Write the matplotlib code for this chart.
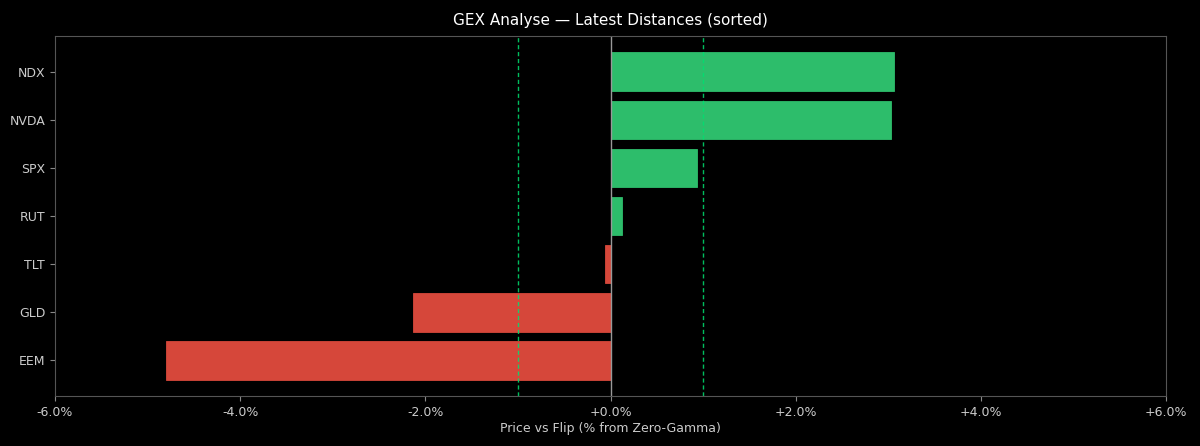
import matplotlib
matplotlib.use("Agg")
import matplotlib.pyplot as plt
from matplotlib.ticker import FuncFormatter

tickers = ["NDX", "NVDA", "SPX", "RUT", "TLT", "GLD", "EEM"]
distances = [3.06, 3.03, 0.93, 0.12, -0.06, -2.13, -4.80]
threshold = 1.0

fig = plt.figure(figsize=(12, 4.46), dpi=100, facecolor="black")
ax = fig.add_axes([0.0458, 0.112, 0.9259, 0.807], facecolor="black")

colors = ["#2dbd6b" if d >= 0 else "#d6473a" for d in distances]
ypos = list(range(len(tickers)))
ax.barh(ypos, distances, height=0.8, color=colors, edgecolor=colors, linewidth=0.6)
ax.invert_yaxis()
ax.set_yticks(ypos)
ax.set_yticklabels(tickers)

ax.axvline(0, color="#999999", linewidth=1.0)
ax.axvline(threshold, color="#00e070", linestyle=(0, (3, 2)), linewidth=1.0, alpha=0.85)
ax.axvline(-threshold, color="#00e070", linestyle=(0, (3, 2)), linewidth=1.0, alpha=0.85)

ax.set_xlim(-6, 6)
ax.set_xticks([-6, -4, -2, 0, 2, 4, 6])
ax.xaxis.set_major_formatter(FuncFormatter(lambda v, p: f"{v:+.1f}%" if v != 0 else "+0.0%"))

for s in ax.spines.values():
    s.set_color("#555555")
ax.tick_params(colors="#cccccc", labelsize=9)
ax.tick_params(axis="both", color="#888888")
ax.set_xlabel("Price vs Flip (% from Zero-Gamma)", color="#cccccc", fontsize=9, labelpad=2)
ax.set_title("GEX Analyse — Latest Distances (sorted)", color="white", fontsize=11, pad=8)

fig.savefig("out.png", dpi=100, facecolor="black")
